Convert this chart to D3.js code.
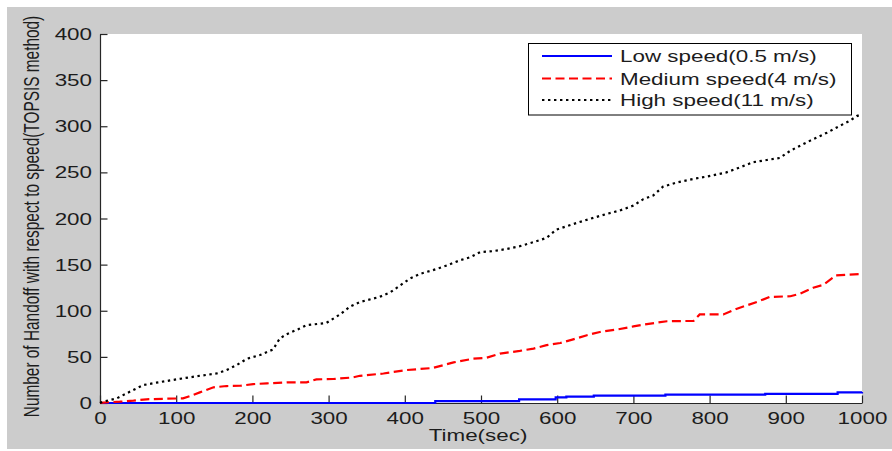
<!DOCTYPE html>
<html>
<head>
<meta charset="utf-8">
<script src="https://cdn.jsdelivr.net/npm/d3@7"></script>
<style>
  html, body { margin: 0; padding: 0; background: #ffffff; }
  svg { display: block; }
  text { font-family: "Liberation Sans", Arial, sans-serif; fill: #1c1c1c; }
</style>
</head>
<body>
<svg id="chart" width="892" height="451"></svg>
<script>
// Handoff counts over simulation time, one series per user speed
const lowTime  = [0, 440, 550, 598, 612, 648, 742, 873, 968, 1000];
const lowCount = [0, 2, 4, 6, 7, 8, 9, 10, 11.5, 12];

const medTime  = [0, 4, 26, 44, 61, 88, 109, 118, 131, 149, 166, 184, 201, 219, 245, 271, 284, 306, 332, 341,
                  372, 402, 437, 464, 490, 507, 525, 551, 569, 586, 604, 621, 639, 656, 678, 700, 713, 744, 779,
                  787, 818, 835, 862, 879, 906, 919, 936, 949, 966, 1000];
const medCount = [0, 0.5, 1.4, 2.5, 4, 4.7, 5, 7.5, 11.5, 17, 18.4, 18.7, 20.5, 21.3, 22.4, 22.4, 25.6, 26, 27.7, 29.5,
                  32, 35.7, 38, 44, 48, 49, 53.6, 56.5, 59, 62.7, 65, 69, 73.5, 77, 79.6, 83, 85, 88.6, 89,
                  96, 96, 102, 109.5, 115, 115.7, 118.5, 125, 128, 138.4, 140];

const highTime  = [0, 4, 22, 35, 57, 74, 100, 131, 153, 166, 179, 193, 210, 227, 236, 245, 262, 271, 297, 315,
                   328, 341, 367, 381, 394, 407, 420, 437, 455, 472, 486, 499, 516, 534, 551, 569, 586, 599, 621,
                   643, 665, 682, 700, 713, 726, 739, 757, 779, 796, 822, 840, 857, 875, 892, 906, 919, 936, 954,
                   971, 984, 993, 1000];
const highCount = [0, 1.4, 5, 10.5, 19.5, 22, 25.6, 29.5, 32, 35.7, 41, 48, 52, 58, 70, 74.6, 80.7, 84.3, 86.8, 96,
                   104.5, 109.5, 115, 120, 127.5, 135, 140, 144, 149, 154.6, 158, 163.6, 164.6, 167, 170, 174.4, 179, 188, 194,
                   199.6, 205, 208.6, 214, 221, 225, 234.6, 239, 243, 245.4, 250, 255.5, 261, 263.4, 265.6, 273.5, 279, 286, 293,
                   300.5, 306, 311, 313];

const seriesNames = ["Low speed(0.5 m/s)", "Medium speed(4 m/s)", "High speed(11 m/s)"];
const xTicks = [0, 100, 200, 300, 400, 500, 600, 700, 800, 900, 1000];
const yTicks = [0, 50, 100, 150, 200, 250, 300, 350, 400];
const xTitle = "Time(sec)";
const yTitle = "Number of Handoff with respect to speed(TOPSIS method)";

// text is drawn wide, as in the exported figure
const SX = 1.4;

const svg = d3.select("#chart");
const plot = { left: 100, right: 862, top: 34, bottom: 403 };

// figure background
svg.append("rect").attr("x", 7).attr("y", 7).attr("width", 885).attr("height", 442).attr("fill", "#cccccc");
// axes background
svg.append("rect").attr("x", plot.left).attr("y", plot.top)
  .attr("width", plot.right - plot.left).attr("height", plot.bottom - plot.top).attr("fill", "#ffffff");

const x = d3.scaleLinear().domain([0, 1000]).range([plot.left, plot.right]);
const y = d3.scaleLinear().domain([0, 400]).range([plot.bottom, plot.top]);

// axes with inward ticks
const xAxis = svg.append("g").attr("transform", `translate(0,${plot.bottom})`)
  .call(d3.axisBottom(x).tickValues(xTicks).tickFormat(d3.format("d"))
    .tickSizeInner(-7.5).tickSizeOuter(0).tickPadding(0));
const yAxis = svg.append("g").attr("transform", `translate(${plot.left},0)`)
  .call(d3.axisLeft(y).tickValues(yTicks).tickFormat(d3.format("d"))
    .tickSizeInner(-7.5).tickSizeOuter(0).tickPadding(0));

[xAxis, yAxis].forEach(g => {
  g.select(".domain").attr("stroke", "#262626").attr("stroke-width", 1.2);
  g.selectAll(".tick line").attr("stroke", "#262626").attr("stroke-width", 1.2);
  g.selectAll(".tick text").attr("font-size", 16).attr("fill", "#1c1c1c")
    .attr("font-family", "Liberation Sans, Arial, sans-serif");
});
xAxis.selectAll(".tick text").attr("y", null).attr("dy", null)
  .attr("transform", `translate(0,20.5) scale(${SX},1)`);
yAxis.selectAll(".tick text").attr("x", null).attr("dy", "0.35em")
  .attr("transform", `translate(-8,0) scale(${SX},1)`);

// axis titles
svg.append("text").attr("transform", `translate(478,441) scale(${SX},1)`)
  .attr("text-anchor", "middle").attr("font-size", 16).text(xTitle);
svg.append("text").attr("transform", `translate(38.5,216.5) rotate(-90) scale(1,${SX})`)
  .attr("text-anchor", "middle").attr("font-size", 15.4).text(yTitle);

const zipSeries = (t, v) => t.map((d, i) => [d, v[i]]);
const styles = [
  { color: "#0000ff", dash: null },
  { color: "#ff0000", dash: "9,4.5" },
  { color: "#000000", dash: "2.4,3.6" }
];
const series = [
  { data: zipSeries(lowTime, lowCount), curve: d3.curveStepAfter },
  { data: zipSeries(medTime, medCount), curve: d3.curveLinear },
  { data: zipSeries(highTime, highCount), curve: d3.curveLinear }
];

series.forEach((s, i) => {
  const line = d3.line().x(d => x(d[0])).y(d => y(d[1])).curve(s.curve);
  svg.append("path").datum(s.data).attr("d", line)
    .attr("fill", "none").attr("stroke", styles[i].color).attr("stroke-width", 2.2)
    .attr("stroke-dasharray", styles[i].dash);
});

// legend
const lg = svg.append("g");
lg.append("rect").attr("x", 528.5).attr("y", 43.5).attr("width", 323).attr("height", 71.5)
  .attr("fill", "#ffffff").attr("stroke", "#000000").attr("stroke-width", 1);
const rowY = [56, 78.5, 100];
seriesNames.forEach((name, i) => {
  lg.append("line").attr("x1", 542).attr("x2", 612).attr("y1", rowY[i]).attr("y2", rowY[i])
    .attr("stroke", styles[i].color).attr("stroke-width", 2.2).attr("stroke-dasharray", styles[i].dash);
  lg.append("text").attr("transform", `translate(620,${rowY[i] + 6}) scale(${SX},1)`)
    .attr("font-size", 16).text(name);
});
</script>
</body>
</html>
